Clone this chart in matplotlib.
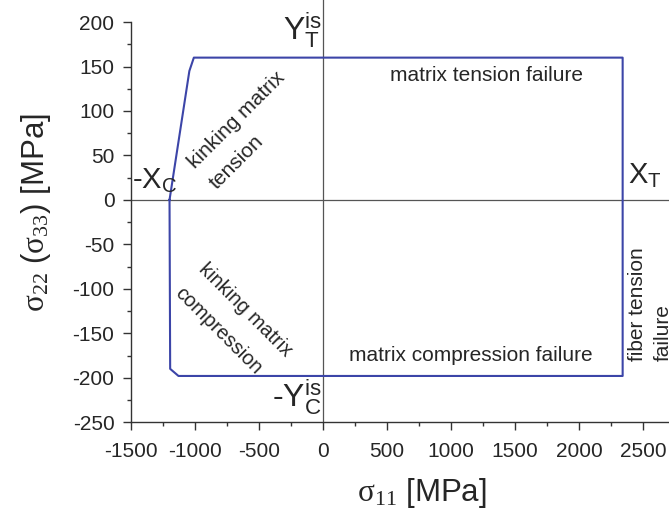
import matplotlib
matplotlib.use('Agg')
import matplotlib.pyplot as plt
from matplotlib.ticker import MultipleLocator

plt.rcParams['font.family'] = ['Liberation Sans', 'DejaVu Sans']
plt.rcParams['axes.unicode_minus'] = False
plt.rcParams['mathtext.fontset'] = 'custom'
plt.rcParams['mathtext.rm'] = 'Liberation Serif'
plt.rcParams['mathtext.sf'] = 'Liberation Sans'
plt.rcParams['mathtext.it'] = 'Liberation Serif:italic'

# failure envelope (sigma11, sigma22) in MPa
s11 = [-1200, -1195, -1130, 2340, 2340, -1010, -1045, -1200]
s22 = [0, -190, -198, -198, 160, 160, 145, 0]

text_col = '#262626'
line_col = '#3c45a8'

fig = plt.figure(figsize=(6.69, 5.13), dpi=100)
ax = fig.add_axes([0.196, 0.177, 0.861, 0.78])

ax.plot(s11, s22, color=line_col, lw=1.5)
ax.axhline(0, color='#555555', lw=0.9, zorder=0)
ax.plot([0, 0], [-250, 230], color='#555555', lw=0.9, zorder=0, clip_on=False)

ax.set_xlim(-1500, 3000)
ax.set_ylim(-250, 200)
ax.xaxis.set_major_locator(MultipleLocator(500))
ax.xaxis.set_minor_locator(MultipleLocator(250))
ax.yaxis.set_major_locator(MultipleLocator(50))
ax.yaxis.set_minor_locator(MultipleLocator(25))
for s in ['top', 'right']:
    ax.spines[s].set_visible(False)
for s in ['left', 'bottom']:
    ax.spines[s].set_color('#333333')
    ax.spines[s].set_linewidth(1.0)
ax.tick_params(which='major', length=6, width=1, colors='#333333', labelsize=15, labelcolor=text_col)
ax.tick_params(which='minor', length=3, width=1, colors='#333333')
ax.tick_params(axis='x', which='major', pad=8)
ax.tick_params(axis='y', which='major', pad=6)

ax.set_xlabel(r'$\mathrm{\sigma}_{\mathrm{11}}$ [MPa]', fontsize=22.5, color=text_col)
ax.set_ylabel(r'$\mathrm{\sigma}_{\mathrm{22}}$ ($\mathrm{\sigma}_{\mathrm{33}}$) [MPa]', fontsize=22.5, color=text_col)
ax.xaxis.set_label_coords(0.505, -0.135)
ax.yaxis.set_label_coords(-0.135, 0.525)

big = dict(fontsize=23, color=text_col, va='baseline')
ax.text(-8, 179, r'$\mathsf{Y}_{\mathsf{T}}^{\mathsf{is}}$', ha='right', **big)
ax.text(-8, -233, r'-$\mathsf{Y}_{\mathsf{C}}^{\mathsf{is}}$', ha='right', **big)
big['fontsize'] = 21
ax.text(-1490, 12, r'-$\mathsf{X}_{\mathsf{C}}$', ha='left', **big)
ax.text(2380, 18, r'$\mathsf{X}_{\mathsf{T}}$', ha='left', **big)

lab = dict(fontsize=15, color=text_col, ha='center', va='center')
ax.text(1277, 140, 'matrix tension failure', **lab)
ax.text(1152, -175, 'matrix compression failure', **lab)
ax.text(-593, 78, 'kinking matrix\ntension', rotation=45, rotation_mode='anchor',
        multialignment='left', linespacing=1.75, **lab)
lab['fontsize'] = 14.5
ax.text(-699, -137, 'kinking matrix\ncompression', rotation=-45, rotation_mode='anchor',
        multialignment='left', linespacing=2.0, **lab)
lab['fontsize'] = 15
ax.text(2560, -117, 'fiber tension\nfailure', rotation=90, rotation_mode='anchor',
        multialignment='left', linespacing=1.45, **lab)

fig.savefig('out.png', dpi=100)
